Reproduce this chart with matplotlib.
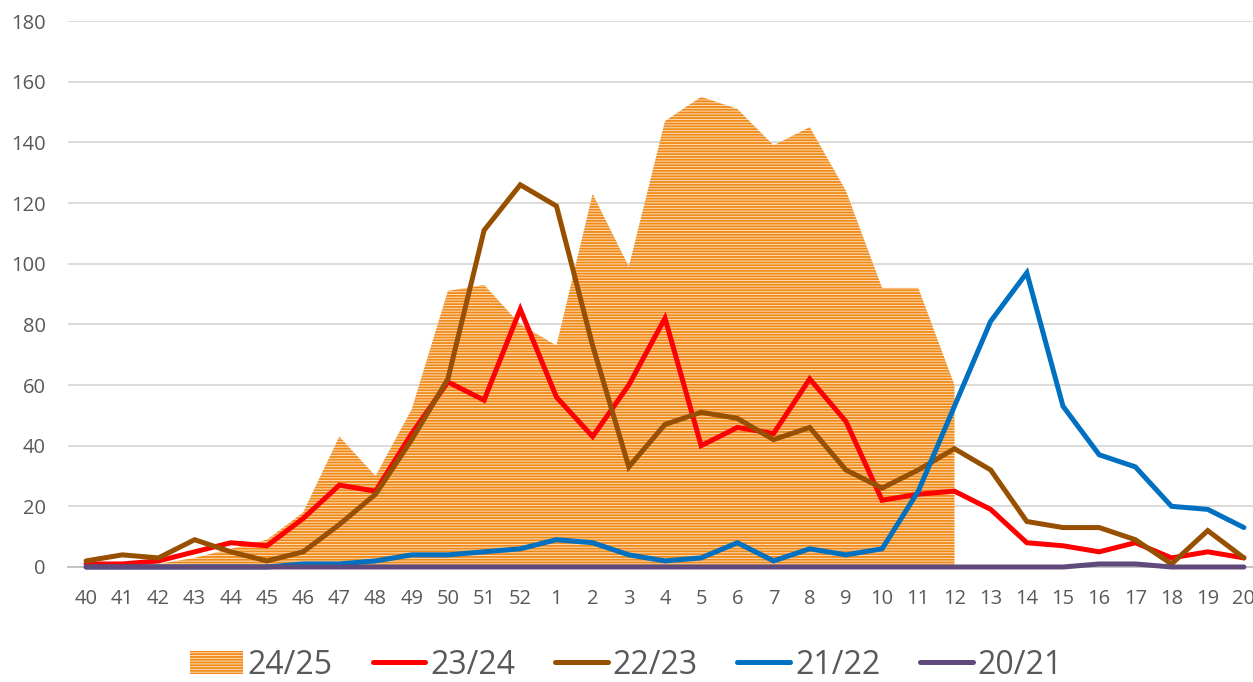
import matplotlib
matplotlib.use("Agg")
import matplotlib.pyplot as plt
import numpy as np
from matplotlib.patches import Patch
from matplotlib.lines import Line2D

weeks = ["40","41","42","43","44","45","46","47","48","49","50","51","52",
         "1","2","3","4","5","6","7","8","9","10","11","12","13","14","15",
         "16","17","18","19","20"]

s2425 = [0, 1, 1, 3, 6, 9, 18, 43, 30, 52, 91, 93, 80, 73, 123, 99, 147, 155,
         151, 139, 145, 124, 92, 92, 60]
s2324 = [1, 1, 2, 5, 8, 7, 16, 27, 25, 44, 61, 55, 85, 56, 43, 60, 82, 40, 46,
         44, 62, 48, 22, 24, 25, 19, 8, 7, 5, 8, 3, 5, 3]
s2223 = [2, 4, 3, 9, 5, 2, 5, 14, 24, 42, 62, 111, 126, 119, 73, 33, 47, 51,
         49, 42, 46, 32, 26, 32, 39, 32, 15, 13, 13, 9, 1, 12, 3]
s2122 = [0, 0, 0, 0, 0, 0, 1, 1, 2, 4, 4, 5, 6, 9, 8, 4, 2, 3, 8, 2, 6, 4, 6,
         25, 53, 81, 97, 53, 37, 33, 20, 19, 13]
s2021 = [0, 0, 0, 0, 0, 0, 0, 0, 0, 0, 0, 0, 0, 0, 0, 0, 0, 0, 0, 0, 0, 0, 0,
         0, 0, 0, 0, 0, 1, 1, 0, 0, 0]

series_labels = ["24/25", "23/24", "22/23", "21/22", "20/21"]
c_area = "#F08A16"
c_area_light = "#FCDDBE"
c_red = "#FF0000"
c_brown = "#974F00"
c_blue = "#0070C0"
c_purple = "#604A7B"
txt = "#595959"

plt.rcParams["hatch.linewidth"] = 1.3
plt.rcParams["font.family"] = ["Open Sans", "DejaVu Sans"]

W, H = 1253, 682
fig = plt.figure(figsize=(W/100, H/100), dpi=100)
x0, x1 = 68, 1262
yb, yt = 567, 21
ax = fig.add_axes([x0/W, (H-yb)/H, (x1-x0)/W, (yb-yt)/H])

x = np.arange(len(weeks))
xa = x[:len(s2425)]
ax.fill_between(xa, 0, s2425, facecolor=c_area_light, edgecolor=c_area,
                hatch="------", linewidth=0, zorder=2)

lw = 3.6
for vals, col in [(s2324, c_red), (s2223, c_brown), (s2122, c_blue), (s2021, c_purple)]:
    ax.plot(x, vals, color=col, lw=lw, solid_joinstyle="miter",
            solid_capstyle="round", zorder=4, clip_on=False)

ax.set_xlim(-0.5, len(weeks) - 0.5)
ax.set_ylim(0, 180)
ax.set_yticks(np.arange(0, 181, 20))
ax.set_xticks(x)
ax.set_xticklabels(weeks)
ax.grid(axis="y", color="#D9D9D9", lw=1.3, zorder=0)
ax.set_axisbelow(True)
for sp in ["top", "right", "left"]:
    ax.spines[sp].set_visible(False)
ax.spines["bottom"].set_color("#BFBFBF")
ax.spines["bottom"].set_linewidth(1.3)
ax.tick_params(axis="both", length=0, labelsize=14.5, colors=txt)
ax.tick_params(axis="x", pad=16)
ax.tick_params(axis="y", pad=16)

handles = [
    Patch(facecolor=c_area_light, edgecolor=c_area, hatch="------", linewidth=0),
    Line2D([], [], color=c_red, lw=lw, solid_capstyle="round"),
    Line2D([], [], color=c_brown, lw=lw, solid_capstyle="round"),
    Line2D([], [], color=c_blue, lw=lw, solid_capstyle="round"),
    Line2D([], [], color=c_purple, lw=lw, solid_capstyle="round"),
]
leg = fig.legend(handles, series_labels, loc="center", bbox_to_anchor=(0.5, (H-665)/H),
                 ncol=5, frameon=False, handlelength=1.65, handleheight=0.7,
                 handletextpad=0.15, columnspacing=1.25,
                 prop={"size": 23})
for t in leg.get_texts():
    t.set_color(txt)

fig.savefig("out.png", dpi=100)
